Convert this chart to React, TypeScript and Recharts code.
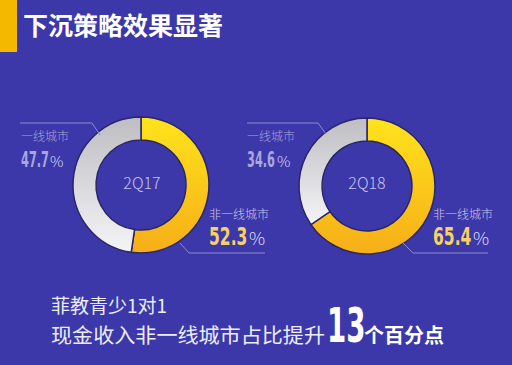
import React from "react";
import { PieChart, Pie, Cell } from "recharts";

const categories = ["非一线城市", "一线城市"];
const periods = ["2Q17", "2Q18"];
const share2Q17 = [52.3, 47.7];
const share2Q18 = [65.4, 34.6];
const title = "下沉策略效果显著";
const captionLine1 = "菲教青少1对1";
const captionLine2 = "现金收入非一线城市占比提升";
const captionBig = "13";
const captionTail = "个百分点";

const W = 512;
const H = 365;
const BG = "#3c38aa";
const fills = ["url(#gradYellow)", "url(#gradGray)"];

const toData = (vals: number[]) => categories.map((name, i) => ({ name, value: vals[i] }));
const d1 = toData(share2Q17);
const d2 = toData(share2Q18);

const numFont = "'DejaVu Sans Condensed', 'DejaVu Sans', sans-serif";
const cjk = "'Noto Sans CJK SC', 'Noto Sans', sans-serif";

function Pct({ x, y, value, color, size, sx, pctX }: { x: number; y: number; value: number; color: string; size: number; sx: number; pctX: number }) {
  return (
    <g>
      <text
        transform={`translate(${x},${y}) scale(${sx},1)`}
        x={0}
        y={0}
        fill={color}
        fontFamily={numFont}
        fontWeight={700}
        fontSize={size}
      >
        {value.toFixed(1)}
      </text>
      <text x={pctX} y={y} fill="#d8d6f2" fontFamily={cjk} fontWeight={300} fontSize={size - 6}>
        %
      </text>
    </g>
  );
}

export default function App() {
  return (
    <div style={{ position: "fixed", left: 0, top: 0, width: W, height: H, background: BG, overflow: "hidden" }}>
      <PieChart width={W} height={H} margin={{ top: 0, right: 0, bottom: 0, left: 0 }}>
        <defs>
          <linearGradient id="gradYellow" x1="0" y1="0" x2="0" y2="1">
            <stop offset="0%" stopColor="#ffe31c" />
            <stop offset="100%" stopColor="#f6ae18" />
          </linearGradient>
          <linearGradient id="gradGray" x1="0" y1="0" x2="0" y2="1">
            <stop offset="0%" stopColor="#bdbdc2" />
            <stop offset="100%" stopColor="#f5f5f7" />
          </linearGradient>
        </defs>
        <Pie
          data={d1}
          dataKey="value"
          nameKey="name"
          cx={141}
          cy={185}
          innerRadius={45}
          outerRadius={68}
          startAngle={90}
          endAngle={-270}
          stroke="#2a2668"
          strokeWidth={1.5}
          isAnimationActive={false}
        >
          {d1.map((_, i) => (
            <Cell key={i} fill={fills[i]} />
          ))}
        </Pie>
        <Pie
          data={d2}
          dataKey="value"
          nameKey="name"
          cx={367}
          cy={186}
          innerRadius={45}
          outerRadius={68}
          startAngle={90}
          endAngle={-270}
          stroke="#2a2668"
          strokeWidth={1.5}
          isAnimationActive={false}
        >
          {d2.map((_, i) => (
            <Cell key={i} fill={fills[i]} />
          ))}
        </Pie>
      </PieChart>
      <svg width={W} height={H} style={{ position: "absolute", left: 0, top: 0, pointerEvents: "none" }}>
        <rect x={0} y={0} width={17} height={52} fill="#f5b800" />
        <text x={23} y={35} fill="#ffffff" fontFamily={cjk} fontWeight={700} fontSize={25}>
          {title}
        </text>

        {/* leader lines */}
        <polyline points="20,123 92,123 100,135" fill="none" stroke="#8d8bcb" strokeWidth={1} />
        <polyline points="180,243 189,253 265,253" fill="none" stroke="#8d8bcb" strokeWidth={1} />
        <polyline points="247,123 318,123 326,134" fill="none" stroke="#8d8bcb" strokeWidth={1} />
        <polyline points="403,243 413,253 488,253" fill="none" stroke="#8d8bcb" strokeWidth={1} />

        {/* center labels */}
        <text x={142} y={189} textAnchor="middle" fill="#c6c5ef" fontFamily={cjk} fontWeight={300} fontSize={16}>
          {periods[0]}
        </text>
        <text x={367} y={189} textAnchor="middle" fill="#c6c5ef" fontFamily={cjk} fontWeight={300} fontSize={16}>
          {periods[1]}
        </text>

        {/* donut 1 labels */}
        <text x={21} y={141} fill="#a6a4d8" fontFamily={cjk} fontWeight={300} fontSize={12}>
          {categories[1]}
        </text>
        <Pct x={21} y={167} value={share2Q17[1]} color="#a9a7dc" size={21} sx={0.6} pctX={50} />
        <text x={209} y={219} fill="#cac8ee" fontFamily={cjk} fontWeight={300} fontSize={12}>
          {categories[0]}
        </text>
        <Pct x={209} y={245} value={share2Q17[0]} color="#f7d066" size={24} sx={0.72} pctX={249} />

        {/* donut 2 labels */}
        <text x={247} y={141} fill="#a6a4d8" fontFamily={cjk} fontWeight={300} fontSize={12}>
          {categories[1]}
        </text>
        <Pct x={247} y={167} value={share2Q18[1]} color="#a9a7dc" size={21} sx={0.6} pctX={277} />
        <text x={433} y={219} fill="#cac8ee" fontFamily={cjk} fontWeight={300} fontSize={12}>
          {categories[0]}
        </text>
        <Pct x={433} y={245} value={share2Q18[0]} color="#f7d066" size={24} sx={0.72} pctX={473} />

        {/* caption */}
        <text x={51} y={313} fill="#ececf8" fontFamily={cjk} fontWeight={400} fontSize={19}>
          {captionLine1}
        </text>
        <text x={51} y={343} fill="#ececf8" fontFamily={cjk} fontWeight={400} fontSize={20.5} textLength={274} lengthAdjust="spacingAndGlyphs">
          {captionLine2}
        </text>
        <text transform="translate(327,342) scale(0.64,1)" x={0} y={0} fill="#ffffff" fontFamily={numFont} fontWeight={700} fontSize={48}>
          {captionBig}
        </text>
        <text x={364} y={343} fill="#ffffff" fontFamily={cjk} fontWeight={700} fontSize={20}>
          {captionTail}
        </text>
      </svg>
    </div>
  );
}
